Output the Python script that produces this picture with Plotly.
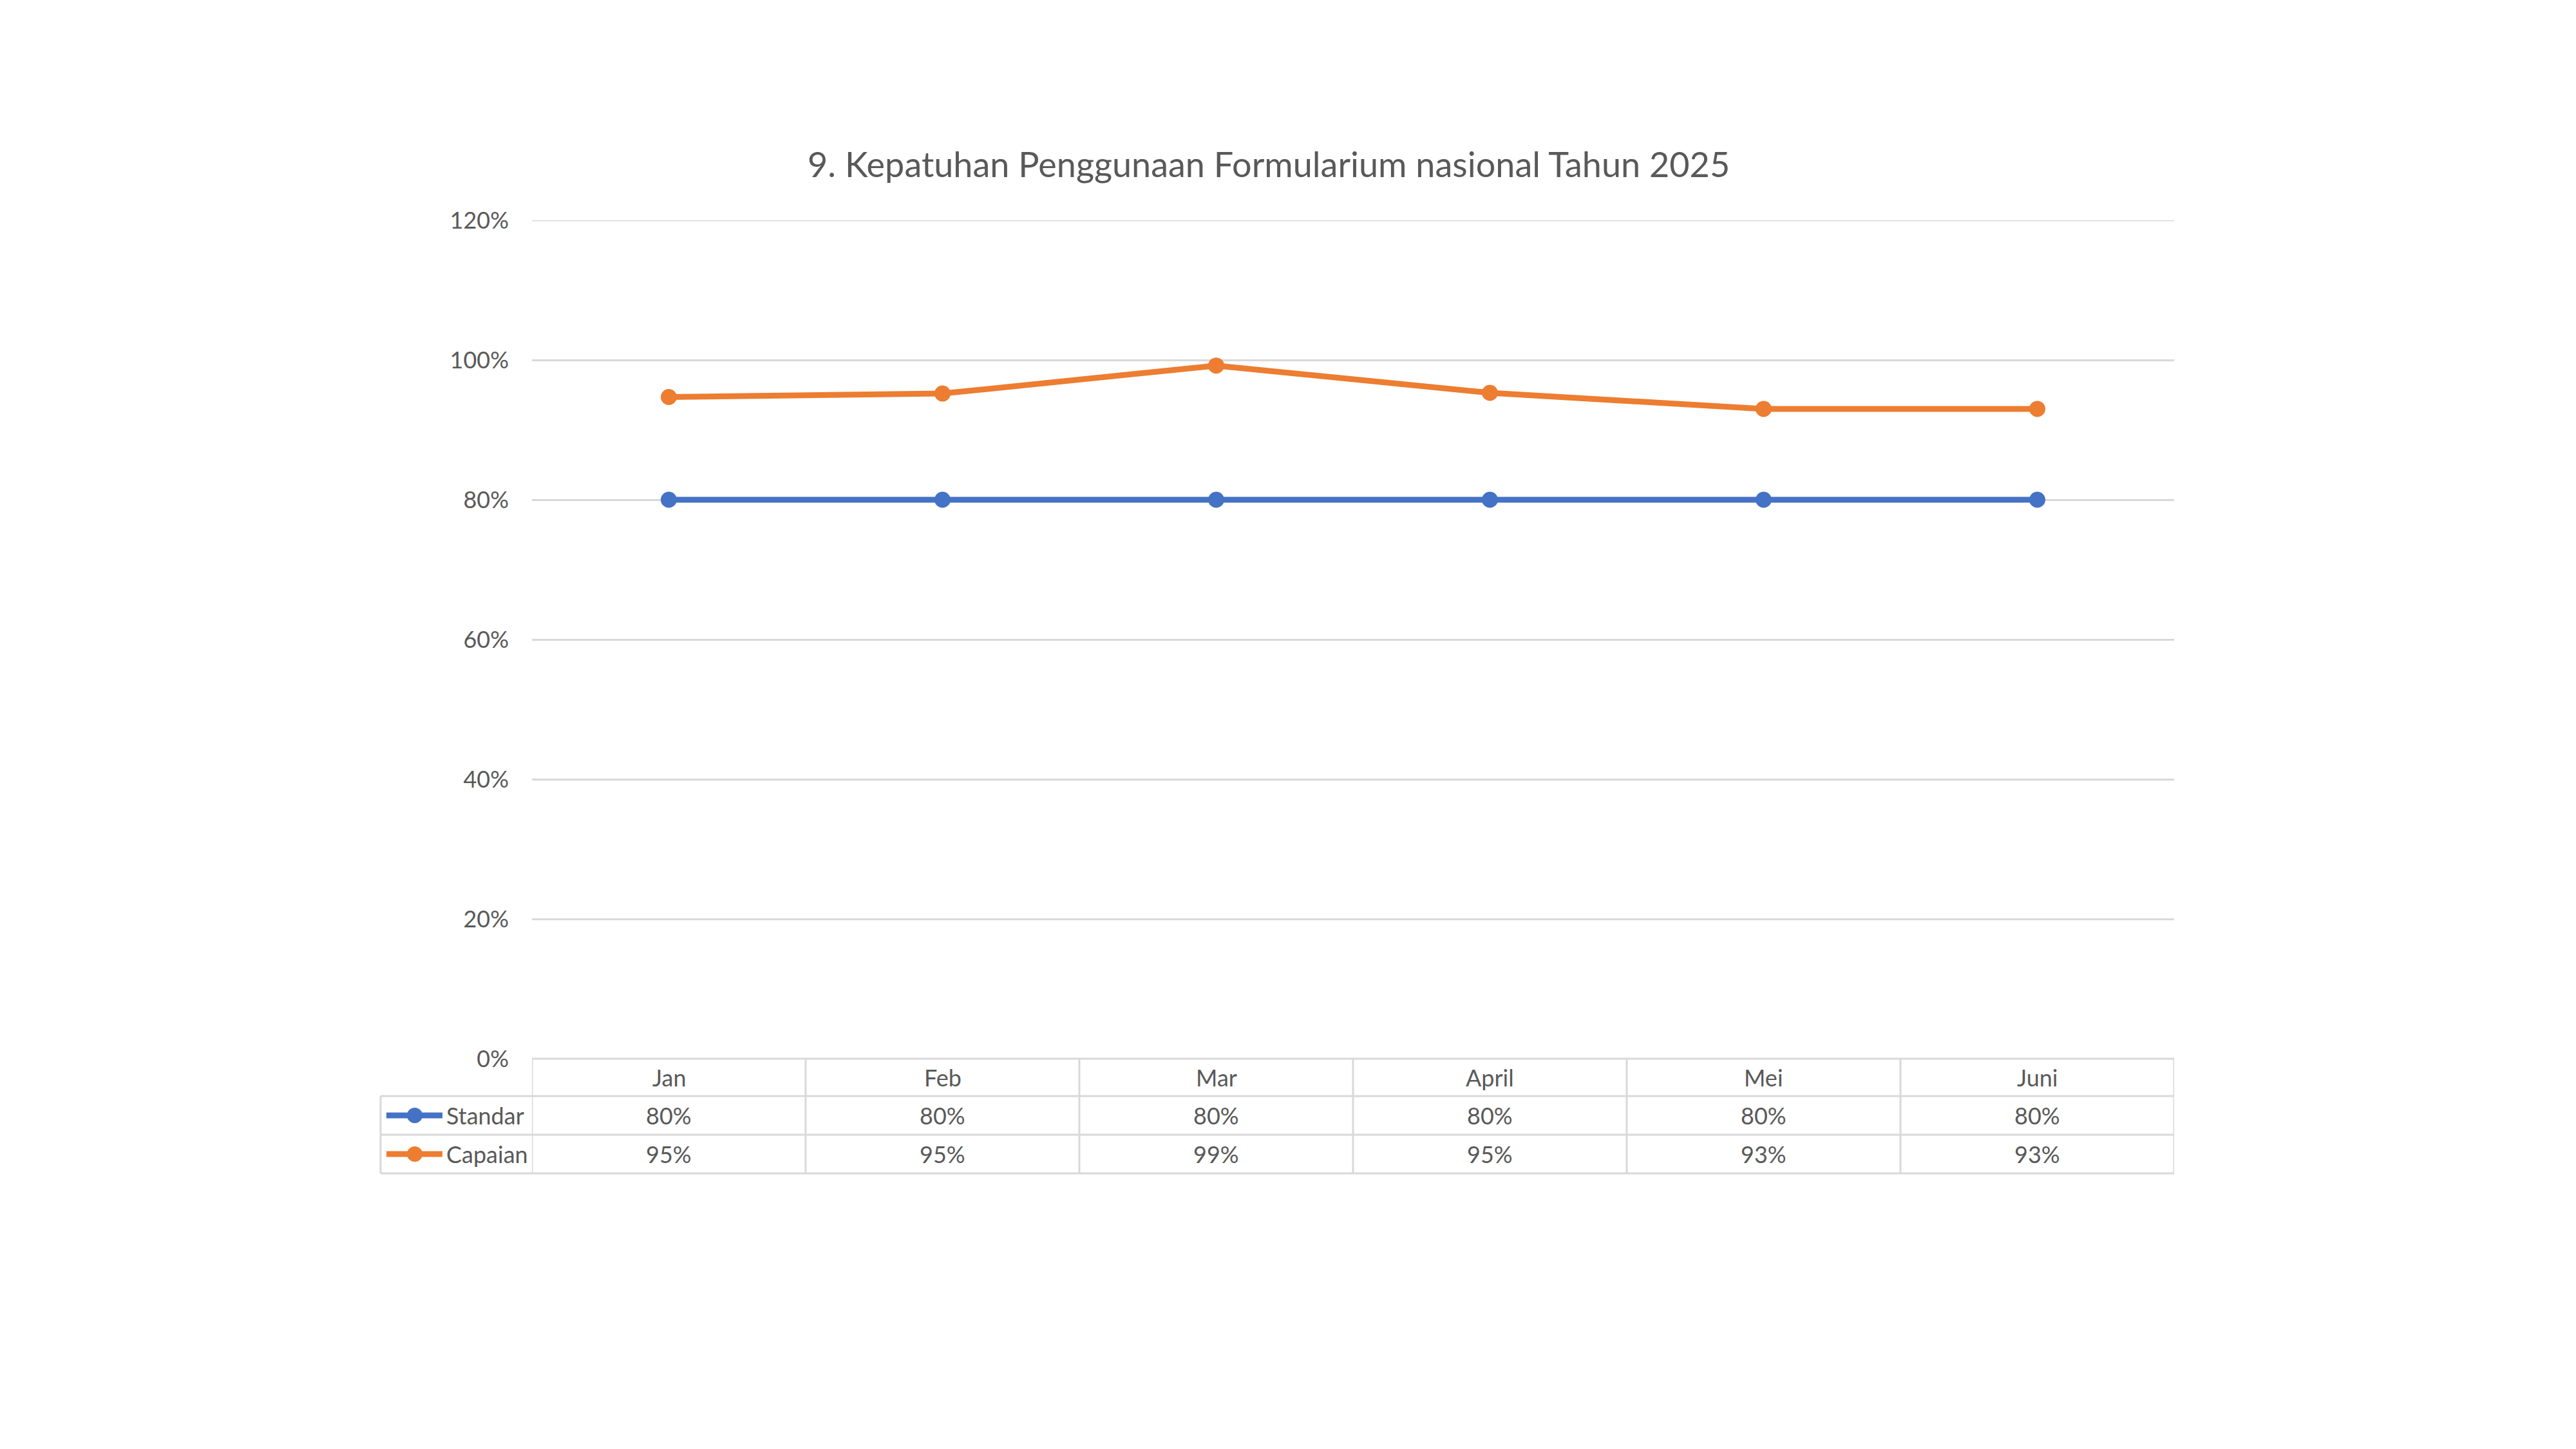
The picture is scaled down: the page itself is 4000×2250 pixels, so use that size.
import plotly.graph_objects as go

months = ["Jan", "Feb", "Mar", "April", "Mei", "Juni"]
standar = [0.80, 0.80, 0.80, 0.80, 0.80, 0.80]
capaian = [0.947, 0.952, 0.992, 0.953, 0.930, 0.930]
series_names = ["Standar", "Capaian"]
series_colors = ["#4472C4", "#ED7D31"]
title_text = "9. Kepatuhan Penggunaan Formularium nasional Tahun 2025"
y_ticks = [0, 0.2, 0.4, 0.6, 0.8, 1.0, 1.2]

W, H = 4000, 2250
OFF = 8  # default page body margin
FONT = "Lato"
TXT = "#595959"
GRID = "#D9D9D9"

def px_x(p):
    return (p - OFF) / W

def px_y(p):
    return 1 - (p - OFF) / H

plot_left, plot_right = 826, 3376
plot_top, plot_bottom = 342, 1644
row_lines = [1644, 1702, 1762, 1822]
legend_left = 591

fig = go.Figure()
for name, vals, col in zip(series_names, [standar, capaian], series_colors):
    fig.add_trace(go.Scatter(
        x=months, y=vals, mode="lines+markers", name=name,
        line=dict(color=col, width=9),
        marker=dict(color=col, size=25),
        showlegend=False,
    ))

shapes = []
line_style = dict(color=GRID, width=3)
# top gridline (edge)
shapes.append(dict(type="line", xref="paper", yref="y", layer="below",
                   x0=px_x(plot_left), x1=px_x(plot_right),
                   y0=y_ticks[-1], y1=y_ticks[-1], line=line_style))
# horizontal table lines
shapes.append(dict(type="line", xref="paper", yref="paper",
                   x0=px_x(plot_left), x1=px_x(plot_right),
                   y0=px_y(row_lines[0]), y1=px_y(row_lines[0]), line=line_style))
for r in row_lines[1:]:
    shapes.append(dict(type="line", xref="paper", yref="paper",
                       x0=px_x(legend_left), x1=px_x(plot_right),
                       y0=px_y(r), y1=px_y(r), line=line_style))
# vertical table lines
shapes.append(dict(type="line", xref="paper", yref="paper",
                   x0=px_x(legend_left), x1=px_x(legend_left),
                   y0=px_y(row_lines[1]), y1=px_y(row_lines[3]), line=line_style))
for i in range(len(months) + 1):
    shapes.append(dict(type="line", xref="x", yref="paper",
                       x0=i - 0.5, x1=i - 0.5,
                       y0=px_y(row_lines[0]), y1=px_y(row_lines[3]), line=line_style))

annotations = []
row_centers = [(row_lines[i] + row_lines[i + 1]) / 2 for i in range(3)]
for m in months:
    annotations.append(dict(x=m, xref="x", y=px_y(row_centers[0]), yref="paper",
                            text=m, showarrow=False, yanchor="middle",
                            font=dict(family=FONT, size=36, color=TXT)))
for k, (name, vals, col) in enumerate(zip(series_names, [standar, capaian], series_colors)):
    yc = px_y(row_centers[k + 1])
    for m, v in zip(months, vals):
        annotations.append(dict(x=m, xref="x", y=yc, yref="paper",
                                text=f"{v:.0%}", showarrow=False, yanchor="middle",
                                font=dict(family=FONT, size=36, color=TXT)))
    shapes.append(dict(type="line", xref="paper", yref="paper",
                       x0=px_x(600), x1=px_x(687), y0=yc, y1=yc,
                       line=dict(color=col, width=9)))
    shapes.append(dict(type="circle", xref="paper", yref="paper",
                       x0=px_x(644 - 12), x1=px_x(644 + 12),
                       y0=yc - 12 / H, y1=yc + 12 / H,
                       fillcolor=col, line=dict(color=col, width=0)))
    annotations.append(dict(x=px_x(691), xref="paper", y=yc, yref="paper",
                            text=name, showarrow=False, xanchor="left", yanchor="middle",
                            font=dict(family=FONT, size=36, color=TXT)))

annotations.append(dict(x=px_x(1970), xref="paper", y=px_y(255), yref="paper",
                        text=title_text, showarrow=False, xanchor="center", yanchor="middle",
                        font=dict(family=FONT, size=54, color=TXT)))

fig.update_layout(
    width=W, height=H,
    margin=dict(l=0, r=0, t=0, b=0, pad=0, autoexpand=False),
    paper_bgcolor="white", plot_bgcolor="white",
    xaxis=dict(domain=[px_x(plot_left), px_x(plot_right)], range=[-0.5, 5.5],
               showticklabels=False, showgrid=False, zeroline=False,
               showline=False, ticks="", automargin=False),
    yaxis=dict(domain=[px_y(plot_bottom), px_y(plot_top)], range=[0, 1.2],
               tickvals=y_ticks, tickformat=".0%",
               tickfont=dict(family=FONT, size=36, color=TXT),
               showgrid=True, gridcolor=GRID, gridwidth=3,
               zeroline=False, showline=False, ticks="", ticklabelstandoff=35,
               automargin=False),
    shapes=shapes, annotations=annotations,
)

fig.write_html("out.html")
